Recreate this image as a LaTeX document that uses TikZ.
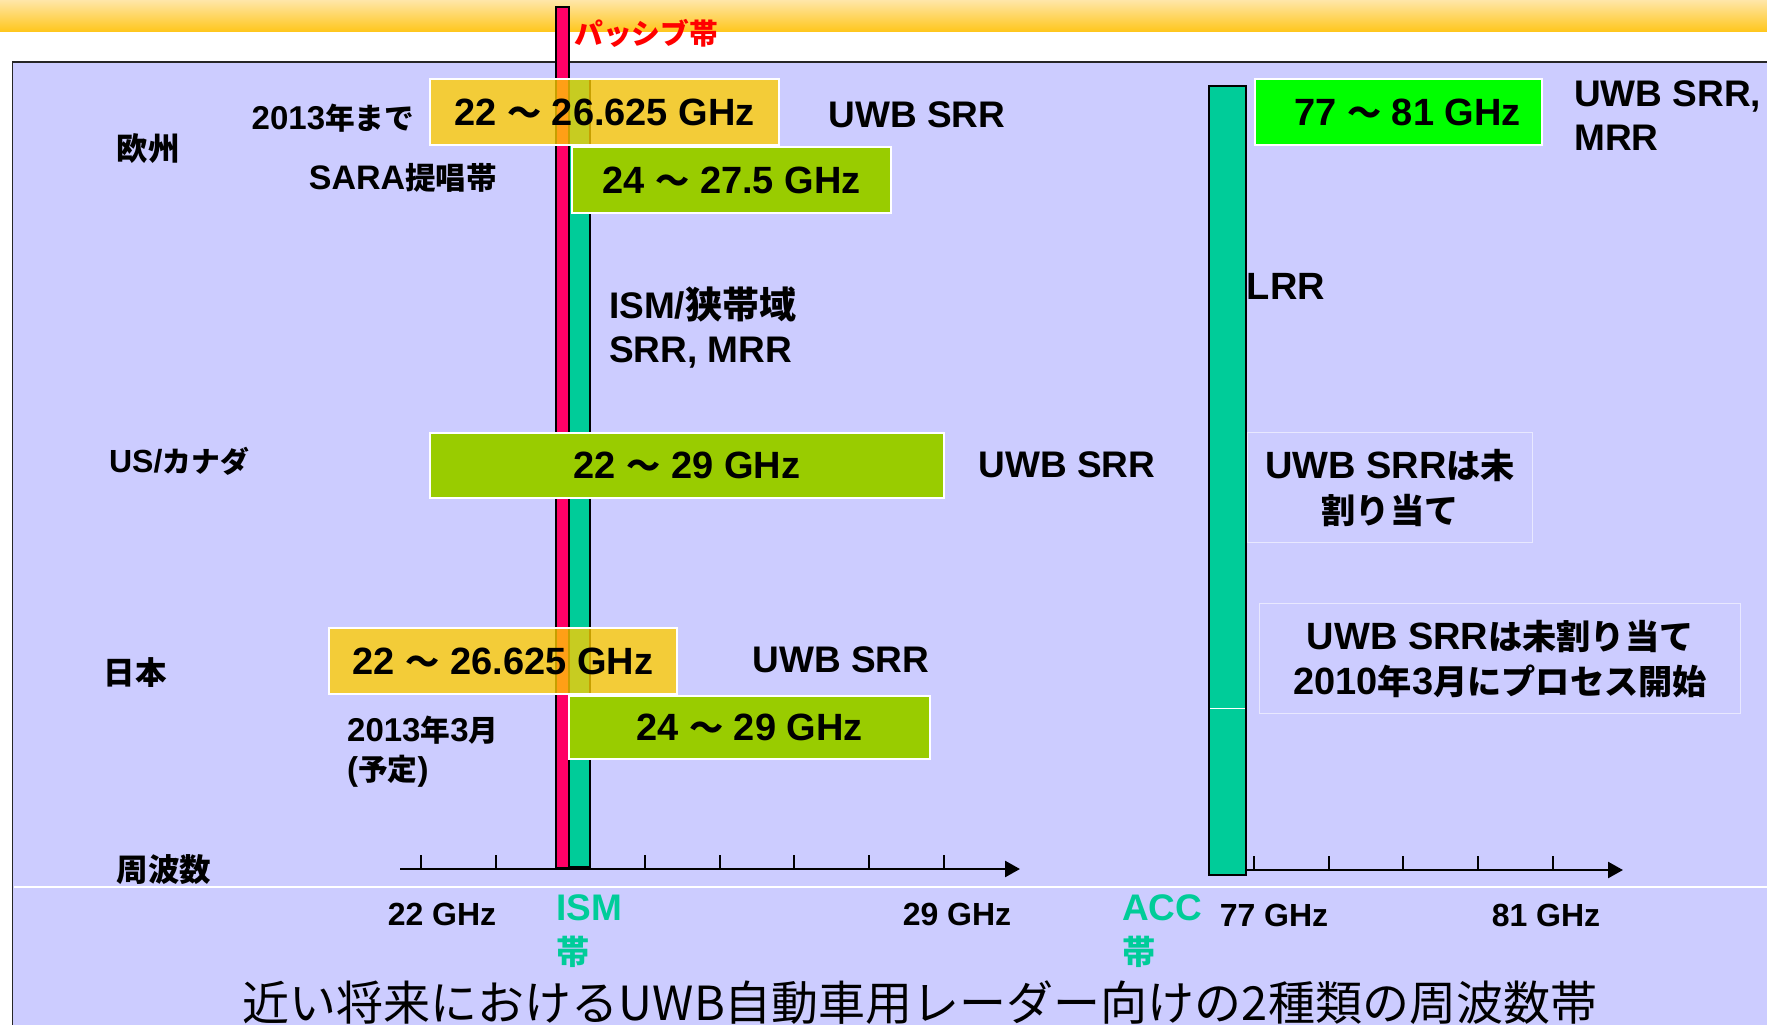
\documentclass[tikz,border=0pt]{standalone}
\usepackage{fontspec}
\setmainfont{Liberation Sans}
\newfontfamily\jpfont[Scale=0.9]{Noto Sans CJK JP}
\newfontfamily\jpfontfull{Noto Sans CJK JP}
\newfontfamily\capfont{Noto Sans CJK JP}
\newcommand\jt[1]{{\jpfont #1}}
\newcommand\jtf[1]{{\jpfontfull #1}}
\newcommand\fsz[1]{\fontsize{#1}{#1}\selectfont\bfseries}
\usetikzlibrary{arrows.meta}
\definecolor{lav}{HTML}{CCCCFF}
\definecolor{pinkbar}{HTML}{FF0066}
\definecolor{teal}{HTML}{00CC99}
\definecolor{orbox}{HTML}{FFCC00}
\definecolor{grbox}{HTML}{99CC00}
\definecolor{brgreen}{HTML}{00FF00}
\definecolor{topA}{HTML}{FFE6A8}
\definecolor{topB}{HTML}{FFC61A}
\tikzset{
  lbl/.style={font=\fontsize{37}{44}\selectfont\bfseries, inner sep=0},
  box/.style={draw=white, line width=2, inner sep=0, anchor=north west,
              font=\fontsize{38}{44}\selectfont\bfseries},
  obox/.style={box, fill=orbox, fill opacity=0.78, text opacity=1},
  gbox/.style={box, fill=grbox},
  nbox/.style={draw=white!55!lav, line width=1.2, inner sep=0, anchor=north west,
               align=center, font=\fontsize{38}{45}\selectfont\bfseries},
  bar/.style={draw=black, line width=1.6},
  axisline/.style={line width=2.6, -{Triangle[length=15pt,width=16pt]}},
  tick/.style={line width=2},
  tealtxt/.style={lbl, text=teal, align=left}
}
\begin{document}
\begin{tikzpicture}[x=1pt,y=-1pt]
\useasboundingbox (0,0) rectangle (1767,1025);
% header band
\fill[white] (0,0) rectangle (1767,1025);
\shade[top color=topA, bottom color=topB] (0,0) rectangle (1767,32);
% panel
\fill[lav] (12.6,62) rectangle (1767,1025);
\draw[line width=1.6, black!85] (12.6,1025) -- (12.6,62) -- (1767,62);
\draw[white, line width=1.3] (13.5,887) -- (1767,887);

% axes
\coordinate (a1s) at (400,869);
\coordinate (a1e) at (1020,869);
\coordinate (a2s) at (1246,870);
\coordinate (a2e) at (1623,870);
\draw[axisline] (a1s) -- (a1e);
\draw[axisline] (a2s) -- (a2e);
\foreach \x in {421,496,570,645,720,794,869,944} \draw[tick] (\x,869) -- (\x,855);
\foreach \x in {1254,1329,1403,1478,1553} \draw[tick] (\x,870) -- (\x,856);

% bars
\draw[bar, fill=teal] (569,79) rectangle (590,867);
\draw[bar, fill=pinkbar] (556,7) rectangle (569,868);
\draw[bar, fill=teal] (1209,86) rectangle (1246,875);
\draw[white, line width=1] (1210,708) -- (1245,708);

% band boxes
\node[obox, minimum width=349, minimum height=66] (eu1) at (429,78) {22 \jt{～} 26.625 GHz};
\node[gbox, minimum width=319, minimum height=66] (eu2) at (571,146) {24 \jt{～} 27.5 GHz};
\node[gbox, minimum width=514, minimum height=65] (us) at (429,432) {22 \jt{～} 29 GHz};
\node[obox, minimum width=348, minimum height=66] (jp1) at (328,627) {22 \jt{～} 26.625 GHz};
\node[gbox, minimum width=361, minimum height=63] (jp2) at (568,695) {24 \jt{～} 29 GHz};
\node[box, fill=brgreen, minimum width=287, minimum height=66] (g77) at (1254,78) {\hspace*{18pt}77 \jt{～} 81 GHz};
\node[nbox, minimum width=285, minimum height=110] (na1) at (1247,432) {UWB SRR\jt{は未}\\\jt{割り当て}};
\node[nbox, minimum width=481, minimum height=110] (na2) at (1259,603) {UWB SRR\jt{は未割り当て}\\2010\jt{年}3\jt{月にプロセス開始}};

% labels
\node[lbl, text=red, anchor=west, font=\fsz{32}] (pas) at (574,33) {\jt{パッシブ帯}};
\node[lbl, font=\fsz{35}] (eu) at (148,149) {\jt{欧州}};
\node[lbl, font=\fsz{33}] (eu13) at (333,118) {2013\jt{年まで}};
\node[lbl, font=\fsz{34}] (sara) at (403,178) {SARA\jt{提唱帯}};
\node[lbl] (euuwb) at (917,115) {UWB SRR};
\node[lbl, anchor=west, align=left] (ism) at (609,328) {ISM/\jtf{狭帯域}\\SRR, MRR};
\node[lbl, font=\fsz{32}] (usl) at (179,461) {US/\jt{カナダ}};
\node[lbl] (usuwb) at (1067,465) {UWB SRR};
\node[lbl, font=\fsz{35}] (jpl) at (135,673) {\jt{日本}};
\node[lbl] (jpuwb) at (841,660) {UWB SRR};
\node[lbl, anchor=west, align=left, font=\fontsize{33}{39}\selectfont\bfseries] (jp13) at (347,752) {2013\jt{年}3\jt{月}\\(\jt{予定})};
\node[lbl, font=\fsz{35}] (freq) at (164,870) {\jt{周波数}};
\node[lbl, font=\fsz{38}] (lrr) at (1286,286) {LRR};
\node[lbl, anchor=west, align=left] (uwbmrr) at (1574,116) {UWB SRR,\\MRR};
\node[lbl, font=\fsz{32}] (f22) at (442,914) {22 GHz};
\node[lbl, font=\fsz{32}] (f29) at (957,914) {29 GHz};
\node[lbl, font=\fsz{32}] (f77) at (1274,915) {77 GHz};
\node[lbl, font=\fsz{32}] (f81) at (1546,915) {81 GHz};
\node[tealtxt, anchor=west] (ismb) at (556,931) {ISM\\\jt{帯}};
\node[tealtxt, anchor=west] (accb) at (1122,931) {ACC\\\jt{帯}};

% caption
\node[font=\capfont\fontsize{47}{50}\selectfont, anchor=base, inner sep=0] (cap) at (920,1020) {近い将来におけるUWB自動車用レーダー向けの2種類の周波数帯};
\end{tikzpicture}
\end{document}
